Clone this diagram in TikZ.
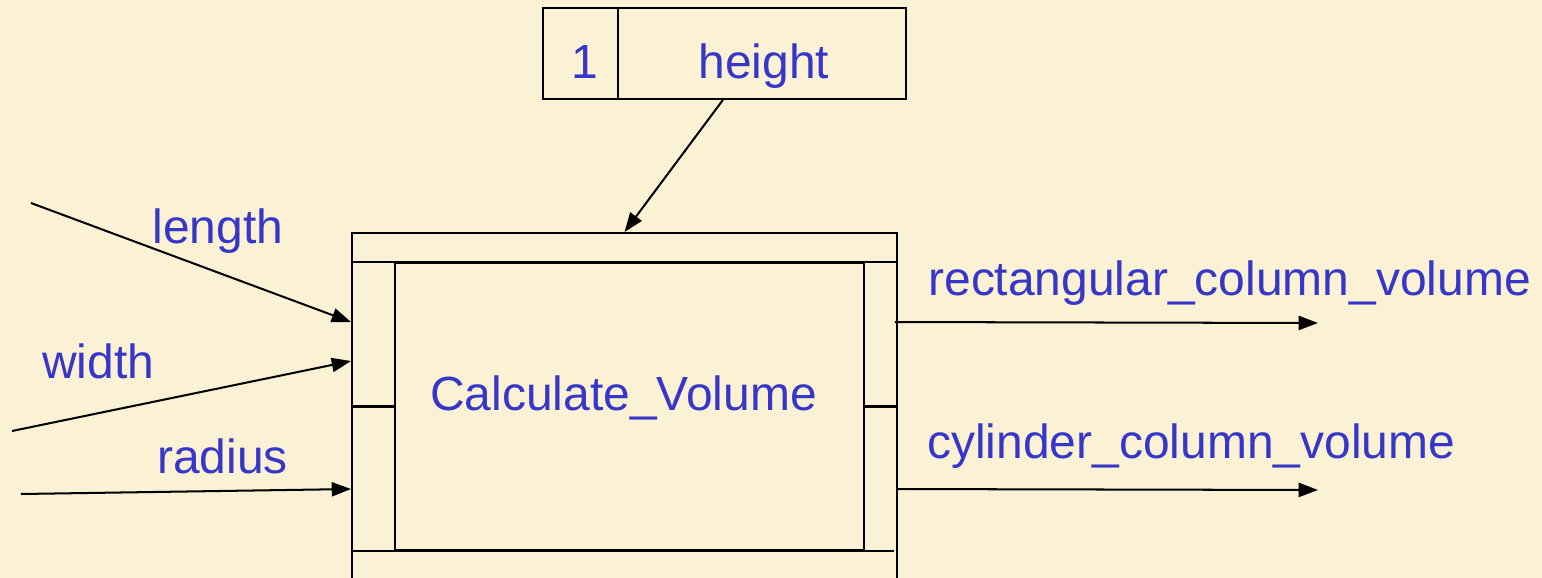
\documentclass[tikz,border=0pt]{standalone}
\usepackage{fontspec}
\setmainfont{Liberation Sans}
\usetikzlibrary{arrows.meta,calc}
\definecolor{bgcol}{RGB}{251,241,212}
\definecolor{txtblue}{RGB}{54,54,200}
\begin{document}
\begin{tikzpicture}[x=0.02cm,y=-0.02cm,
  box/.style={draw=black,line width=1.15pt,rectangle,inner sep=0pt},
  lbl/.style={text=txtblue,font=\fontsize{27.3}{32}\selectfont,inner sep=0pt,anchor=base west},
  conn/.style={draw=black,line width=1.15pt,-{Triangle[length=11pt,width=8pt]}}]
\useasboundingbox (0,0) rectangle (1542,578);
\fill[bgcol] (0,0) rectangle (1542,578);
\clip (0,0) rectangle (1542,578);
% top box
\node[box,minimum width=1.5cm,minimum height=1.82cm] (num) at (580.5,53.5) {};
\node[box,minimum width=5.76cm,minimum height=1.82cm] (hgt) at (762,53.5) {};
\node[lbl] (numt) at (571,78) {1};
\node[lbl] (hgtt) at (698,78) {height};
% main box
\node[box,minimum width=10.9cm,minimum height=7.34cm] (outer) at (624.5,416.5) {};
\node[box,minimum width=9.38cm,minimum height=5.74cm] (proc) at (629.5,406.5) {};
\node[lbl] (proct) at (430,410) {Calculate\_Volume};
\draw[line width=1.15pt] ($(outer.north west)+(0,30)$) -- ($(outer.north east)+(0,30)$);
\draw[line width=1.15pt] (proc.south west -| outer.west) -- ($(proc.south east -| outer.east)+(-4,0)$);
\draw[line width=1.15pt] (proc.west -| outer.west) -- (proc.west);
\draw[line width=1.15pt] (proc.east) -- (proc.east -| outer.east);
% input connectors
\coordinate (inL) at (31,203);
\coordinate (inW) at (12,431);
\coordinate (inR) at (21,494);
\draw[conn] (inL) -- ($(outer.north west)+(0,90)$);
\draw[conn] (inW) -- ($(outer.north west)+(0,129)$);
\draw[conn] (inR) -- ($(outer.north west)+(0,257)$);
\node[lbl] (lenl) at (152,243) {length};
\node[lbl] (widl) at (42,378) {width};
\node[lbl] (radl) at (157,473) {radius};
% control connector
\draw[conn] ($(hgt.south west)!0.365!(hgt.south east)$) -- ($(outer.north west)!0.5!(outer.north east)$);
% output connectors
\coordinate (outR) at (1318,323);
\coordinate (outC) at (1318,490);
\draw[conn] ($(outer.north east)+(-3,90)$) -- (outR);
\draw[conn] ($(outer.north east)+(0,257)$) -- (outC);
\node[lbl] (rcvl) at (928,295) {rectangular\_column\_volume};
\node[lbl] (ccvl) at (927,458) {cylinder\_column\_volume};
\end{tikzpicture}
\end{document}
